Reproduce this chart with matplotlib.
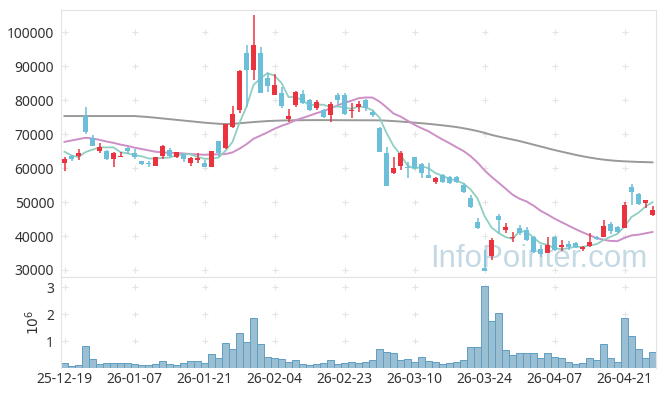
import numpy as np
import pandas as pd
import matplotlib
matplotlib.use("Agg")
import matplotlib.pyplot as plt

# ===== DATA =====
holidays = ["2025-12-25", "2025-12-31", "2026-01-01",
            "2026-02-16", "2026-02-17", "2026-02-18", "2026-03-02"]
dates = pd.bdate_range("2025-12-19", "2026-04-27", freq="C", holidays=holidays)

opens = [61600, 63600, 63600, 75400, 68700, 65000, 65000, 62700, 63200, 66000,
         64300, 62100, 61400, 60700, 63600, 65200, 63200, 64100, 61600, 62500,
         61600, 60400, 67900, 65800, 72000, 77100, 93900, 88800, 93900, 86600,
         81500, 82200, 74500, 78500, 81700, 80000, 77700, 77000, 75600, 81500,
         81500, 76900, 78000, 80000, 76600, 71700, 64300, 58400, 60700, 60400,
         63200, 61100, 57900, 55800, 57900, 57400, 57400, 55000, 51300, 44200,
         30500, 34100, 46000, 41800, 39300, 42300, 41800, 39800, 36200, 35100,
         39700, 36900, 37600, 37800, 36100, 37200, 39600, 39800, 43500, 42700,
         42400, 54500, 52300, 49600, 46200]
highs = [63200, 63800, 65500, 78000, 69700, 67500, 65200, 64800, 64800, 66200,
         65600, 62100, 62100, 63200, 66800, 65800, 64700, 64100, 63300, 64300,
         62400, 65000, 67900, 73000, 78200, 88800, 96200, 105000, 95500, 87900,
         87600, 83700, 77300, 82700, 83100, 80300, 80000, 77300, 79300, 82200,
         82200, 79000, 79700, 80300, 77200, 72200, 66300, 63100, 64900, 61900,
         63300, 61400, 61400, 57400, 58100, 57700, 57700, 55500, 52100, 45200,
         36000, 39300, 46500, 43700, 41300, 43200, 42700, 40100, 37500, 39800,
         40000, 38800, 38500, 38100, 37200, 40800, 40100, 44700, 44000, 43000,
         50100, 55200, 52600, 50600, 48900]
lows = [59200, 62000, 62400, 69900, 66400, 64300, 62500, 60400, 63100, 64100,
        62700, 60800, 60300, 60500, 62800, 63300, 63000, 61900, 60700, 61600,
        60400, 60400, 63300, 65500, 71700, 76300, 78000, 85900, 82200, 82300,
        81500, 77600, 73400, 77900, 78800, 76900, 77000, 74800, 73600, 78500,
        75500, 74800, 76400, 76700, 75000, 64600, 54800, 58100, 59400, 57000,
        59700, 57000, 57000, 55200, 55700, 55300, 55500, 52600, 48100, 42100,
        29700, 32900, 40800, 40800, 38300, 40300, 38500, 35000, 33800, 34900,
        35500, 35600, 36000, 36400, 35500, 36900, 38800, 39600, 40600, 41000,
        42300, 49100, 49100, 48100, 46000]
closes = [62700, 62700, 64300, 70700, 66600, 66100, 62700, 64300, 63600, 65000,
          63300, 61100, 61100, 63200, 66400, 63500, 64600, 62700, 62900, 62900,
          60400, 64900, 64300, 72900, 75900, 88500, 88800, 96200, 82200, 84100,
          84400, 78400, 75300, 82300, 79200, 77200, 79300, 75100, 78900, 80000,
          75800, 77100, 78900, 77600, 75600, 64800, 54800, 59900, 64400, 59900,
          59900, 58400, 57200, 57200, 55800, 55500, 55800, 52900, 48600, 42500,
          29800, 38800, 44700, 42700, 39800, 40800, 38800, 35400, 34600, 37400,
          35800, 37400, 36900, 36700, 36900, 38300, 39100, 43000, 41600, 41300,
          49100, 53000, 49300, 50600, 47700]

# volume in millions of shares
volume_m = [0.19, 0.09, 0.11, 0.81, 0.33, 0.15, 0.19, 0.19, 0.19, 0.19,
            0.15, 0.11, 0.11, 0.15, 0.26, 0.15, 0.11, 0.19, 0.26, 0.26,
            0.19, 0.52, 0.37, 0.93, 0.70, 1.30, 0.96, 1.85, 0.89, 0.41,
            0.37, 0.33, 0.22, 0.30, 0.15, 0.11, 0.15, 0.19, 0.30, 0.15,
            0.19, 0.22, 0.19, 0.22, 0.30, 0.70, 0.59, 0.56, 0.30, 0.33,
            0.22, 0.41, 0.26, 0.22, 0.15, 0.19, 0.22, 0.30, 0.78, 0.78,
            3.05, 1.74, 2.04, 0.67, 0.48, 0.56, 0.56, 0.56, 0.37, 0.56,
            0.41, 0.37, 0.22, 0.15, 0.19, 0.37, 0.30, 0.89, 0.37, 0.22,
            1.85, 1.19, 0.70, 0.37, 0.59]

# moving averages before the window fills (history not shown)
ma5_head = [64800, 63700, 63200, 64700]
ma20_head = [67700, 68100, 68500, 68900, 68700, 68300, 67800, 67400, 66900, 66500,
             66000, 65600, 65200, 64800, 64600, 64500, 64400, 64300, 64100]
ma120 = [75300, 75300, 75300, 75300, 75300, 75300, 75300, 75300, 75300, 75300,
         75300, 75150, 75000, 74800, 74590, 74380, 74180, 73970, 73760, 73560,
         73350, 73180, 73030, 72940, 73000, 73180, 73350, 73530, 73680, 73820,
         73910, 73970, 74030, 74060, 74080, 74090, 74100, 74100, 74090, 74080,
         74070, 74060, 74060, 74050, 74040, 74030, 73940, 73820, 73680, 73530,
         73350, 73180, 73000, 72790, 72560, 72320, 72060, 71710, 71320, 70880,
         70350, 69760, 69260, 68820, 68380, 67940, 67410, 66880, 66350, 65820,
         65290, 64820, 64350, 63880, 63470, 63090, 62760, 62470, 62260, 62090,
         61970, 61880, 61790, 61740, 61680]

# ===== STYLE =====
RED = "#eb3340"
BLUE = "#6cbfd9"
GRID = "#e4e4e4"
SPINE = "#e3e3e3"
TXT = "#333333"
plt.rcParams["font.family"] = ["Noto Sans", "DejaVu Sans"]

o = np.array(opens, dtype=float)
h = np.array(highs, dtype=float)
l = np.array(lows, dtype=float)
c = np.array(closes, dtype=float)
x = np.arange(len(c))

ma5 = pd.Series(c).rolling(5).mean().to_numpy()
ma5[:4] = ma5_head
ma20 = pd.Series(c).rolling(20).mean().to_numpy()
ma20[:19] = ma20_head

fig = plt.figure(figsize=(6.65, 3.96), dpi=100)
W, H = 665, 396
ax = fig.add_axes([61 / W, 1 - 277.3 / H, 595 / W, 267.3 / H])
axv = fig.add_axes([61 / W, 1 - 368.3 / H, 595 / W, 91 / H])

# ===== PRICE =====
ax.set_xlim(-0.5, len(c) - 0.5)
ax.set_ylim(27850, 106500)
yt = np.arange(30000, 100001, 10000)
ax.set_yticks(yt)
ax.set_yticklabels([str(v) for v in yt], fontsize=10, color=TXT)
ax.set_xticks([])
ax.tick_params(axis="y", length=0, pad=5)

xt = np.arange(0, len(c), 10)
gx, gy = np.meshgrid(xt, yt)
ax.scatter(gx.ravel(), gy.ravel(), marker="+", s=14, color=GRID, lw=0.8, zorder=1)

ax.text(0.985, 0.04, "InfoPointer.com", transform=ax.transAxes, ha="right",
        va="baseline", fontsize=22.5, color="#c5d9e5", family="Liberation Sans",
        zorder=1)

ax.plot(x, ma120, color="#999999", lw=1.4, zorder=2)
ax.plot(x, ma20, color="#cc8fc6", lw=1.4, zorder=2)
ax.plot(x, ma5, color="#8fcfc2", lw=1.3, zorder=2)

up = c >= o
cols = np.where(up, RED, BLUE)
ax.vlines(x, l, h, colors=cols, lw=1.1, zorder=3)
body = np.maximum(np.abs(c - o), 250)
ax.bar(x, body, bottom=np.minimum(o, c), width=0.72, color=cols, lw=0, zorder=4)

for s in ax.spines.values():
    s.set_color(SPINE)

# ===== VOLUME =====
axv.set_xlim(-0.5, len(c) - 0.5)
axv.set_ylim(0, 3.37)
axv.bar(x, volume_m, width=1.0, color="#9bbfd2", edgecolor="#5f9dc3", lw=0.7, zorder=2)
vy = [1, 2, 3]
gx, gy = np.meshgrid(xt, vy)
axv.scatter(gx.ravel(), gy.ravel(), marker="+", s=14, color=GRID, lw=0.8, zorder=1)
axv.set_yticks(vy)
axv.set_yticklabels([str(v) for v in vy], fontsize=10, color=TXT)
axv.set_xticks(xt)
axv.set_xticklabels([dates[i].strftime("%y-%m-%d") for i in xt], fontsize=10, color=TXT)
axv.tick_params(length=0, pad=3)
axv.tick_params(axis="y", pad=5)
axv.set_ylabel(r"$10^6$", fontsize=10, color=TXT, labelpad=2)
for s in axv.spines.values():
    s.set_color(SPINE)
axv.spines["bottom"].set_visible(False)

fig.savefig("out.png", dpi=100)
